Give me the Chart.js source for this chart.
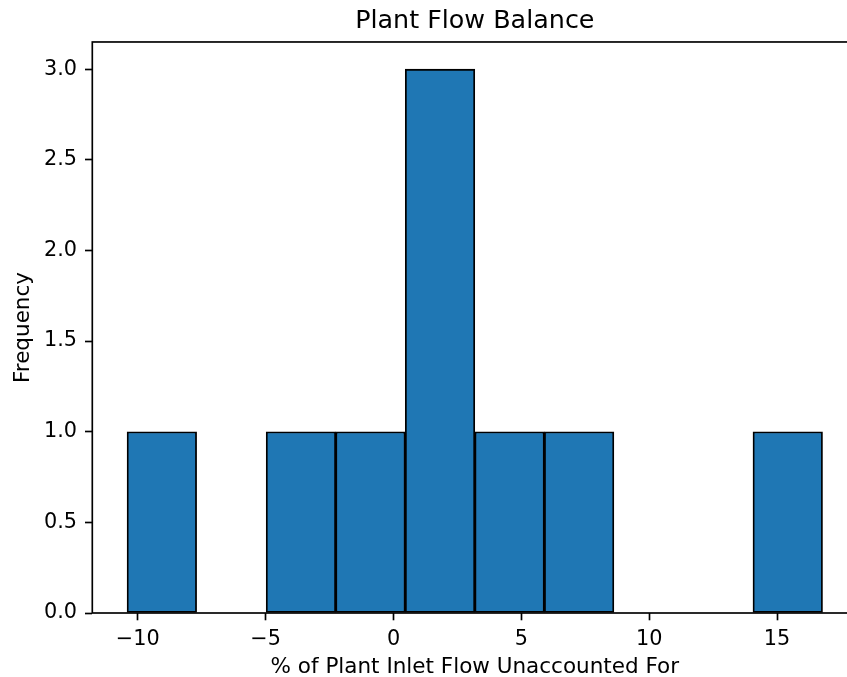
<!DOCTYPE html>
<html>
<head>
<meta charset="utf-8">
<script src="https://cdn.jsdelivr.net/npm/chart.js@4/dist/chart.umd.min.js"></script>
<style>
  html, body { margin: 0; padding: 0; overflow: hidden; background: #ffffff; }
  #wrap { width: 847px; height: 677px; overflow: hidden; position: relative; }
  canvas { display: block; }
</style>
</head>
<body>
<div id="wrap"><canvas id="c" width="880" height="677"></canvas></div>
<script>
// ---- data ----
const chartTitle = "Plant Flow Balance";
const xLabel = "% of Plant Inlet Flow Unaccounted For";
const yLabel = "Frequency";
const binEdges = [-10.42, -7.70, -4.98, -2.26, 0.46, 3.18, 5.90, 8.62, 11.34, 14.06, 16.78];
const binCounts = [1, 0, 1, 1, 3, 1, 1, 0, 0, 1];
const xTickValues = [-10, -5, 0, 5, 10, 15];
const yTickValues = [0, 0.5, 1.0, 1.5, 2.0, 2.5, 3.0];

// ---- build histogram points ----
const histPoints = binCounts.map((c, i) => ({ x: (binEdges[i] + binEdges[i + 1]) / 2, y: c }));
const span = binEdges[binEdges.length - 1] - binEdges[0];
const xMin = binEdges[0] - 0.05 * span;
const xMax = binEdges[binEdges.length - 1] + 0.05 * span;
const yMax = Math.max(...binCounts) * 1.05;

const FONT = "'DejaVu Sans', 'Liberation Sans', sans-serif";
const fmtMinus = v => (v < 0 ? "\u2212" + Math.abs(v) : String(v));

const spinePlugin = {
  id: 'spines',
  afterDatasetsDraw(chart) {
    const { ctx, chartArea: a } = chart;
    ctx.save();
    ctx.strokeStyle = '#000000';
    ctx.lineWidth = 1.67;
    ctx.strokeRect(a.left, a.top, a.right - a.left, a.bottom - a.top);
    ctx.restore();
  }
};

new Chart(document.getElementById('c'), {
  type: 'bar',
  data: {
    datasets: [{
      data: histPoints,
      backgroundColor: '#1f77b4',
      borderColor: '#000000',
      borderWidth: 1.8,
      borderSkipped: false,
      categoryPercentage: 1.0,
      barPercentage: 1.0
    }]
  },
  options: {
    responsive: false,
    animation: false,
    devicePixelRatio: 1,
    layout: { padding: { left: 0, right: 22.7, top: 0, bottom: 0 } },
    plugins: {
      legend: { display: false },
      tooltip: { enabled: false },
      title: {
        display: true,
        text: chartTitle,
        fullSize: false,
        color: '#000000',
        font: { family: FONT, size: 25.4, weight: 'normal', lineHeight: 1.2 },
        padding: { top: 6.6, bottom: 4.9 }
      }
    },
    scales: {
      x: {
        type: 'linear',
        min: xMin,
        max: xMax,
        offset: false,
        afterFit(scale) { scale.height = 64; },
        afterBuildTicks(scale) { scale.ticks = xTickValues.map(v => ({ value: v })); },
        grid: {
          display: true, offset: false, drawOnChartArea: false, drawTicks: true,
          tickLength: 7.3, tickWidth: 1.67, tickColor: '#000000', color: '#000000'
        },
        border: { display: false },
        ticks: {
          padding: 6.8,
          color: '#000000',
          font: { family: FONT, size: 20.8 },
          maxRotation: 0,
          autoSkip: false,
          callback: v => fmtMinus(v)
        },
        title: {
          display: true,
          text: xLabel,
          color: '#000000',
          font: { family: FONT, size: 21.5, lineHeight: 1 },
          padding: { top: 0, bottom: -1.5 }
        }
      },
      y: {
        type: 'linear',
        min: 0,
        max: yMax,
        afterFit(scale) { scale.width = 92.3; },
        afterBuildTicks(scale) { scale.ticks = yTickValues.map(v => ({ value: v })); },
        grid: {
          display: true, drawOnChartArea: false, drawTicks: true,
          tickLength: 7.3, tickWidth: 1.67, tickColor: '#000000', color: '#000000'
        },
        border: { display: false },
        ticks: {
          padding: 8,
          color: '#000000',
          font: { family: FONT, size: 20.8 },
          autoSkip: false,
          callback: v => Number(v).toFixed(1)
        },
        title: {
          display: true,
          text: yLabel,
          color: '#000000',
          font: { family: FONT, size: 21.5, lineHeight: 1.2 },
          padding: { top: 10.5, bottom: 0 }
        }
      }
    }
  },
  plugins: [spinePlugin]
});
</script>
</body>
</html>
